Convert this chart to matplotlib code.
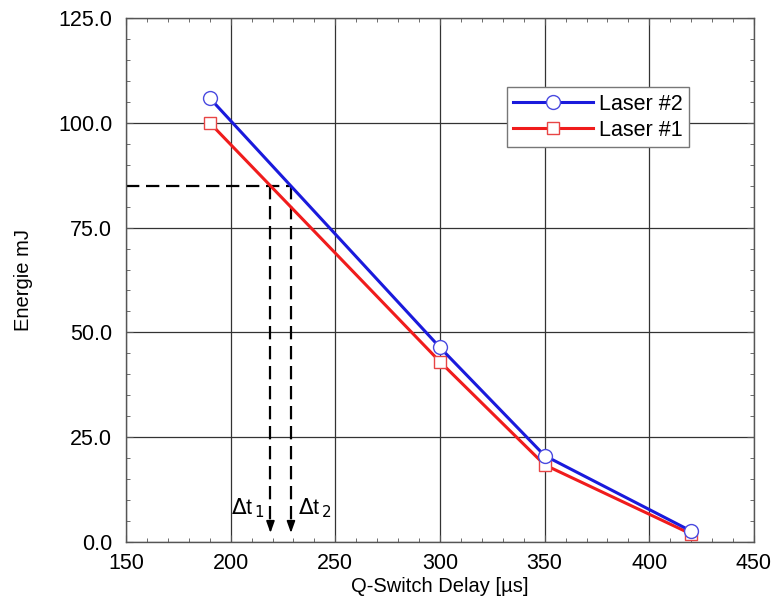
import matplotlib
matplotlib.use("Agg")
import matplotlib.pyplot as plt
from matplotlib.ticker import MultipleLocator, FormatStrFormatter

plt.rcParams["font.family"] = ["Liberation Sans", "DejaVu Sans"]

# data
delay_us = [190, 300, 350, 420]
laser2_mj = [105.9, 46.4, 20.6, 2.6]
laser1_mj = [100.0, 43.0, 18.4, 1.9]

target_mj = 85.0
dt1_us = 219.0
dt2_us = 228.8

fig = plt.figure(figsize=(7.76, 6.07), dpi=100)
ax = fig.add_axes([0.1624, 0.1071, 0.8092, 0.8632])

ax.set_xlim(150, 450)
ax.set_ylim(0, 125)
ax.xaxis.set_major_locator(MultipleLocator(50))
ax.xaxis.set_minor_locator(MultipleLocator(10))
ax.yaxis.set_major_locator(MultipleLocator(25))
ax.yaxis.set_minor_locator(MultipleLocator(5))
ax.yaxis.set_major_formatter(FormatStrFormatter("%.1f"))
ax.tick_params(which="both", direction="in", top=True, right=True,
               labelsize=15.5, color="#555555")
ax.tick_params(axis="x", pad=8)
ax.tick_params(axis="y", pad=10)
ax.tick_params(which="major", length=5)
ax.tick_params(which="minor", length=3)
ax.grid(True, which="major", color="#333333", linewidth=0.9)
ax.set_axisbelow(True)
for s in ax.spines.values():
    s.set_color("#555555")
    s.set_linewidth(1.0)

# guide lines for the 85 mJ target
dash = dict(color="black", linewidth=1.6, linestyle=(0, (6, 3)))
ax.plot([150, dt2_us], [target_mj, target_mj], **dash)
for x in (dt1_us, dt2_us):
    ax.plot([x, x], [target_mj, 4.5], **dash)
    ax.annotate("", xy=(x, 1.5), xytext=(x, 5),
                arrowprops=dict(arrowstyle="-|>,head_length=0.7,head_width=0.25",
                                color="black", lw=1.2))

ax.plot(delay_us, laser2_mj, color="#1a1adc", linewidth=2.2, marker="o",
        markersize=10, markerfacecolor="white", markeredgecolor="#4a4ae0",
        markeredgewidth=1.0, label="Laser #2", zorder=4)
ax.plot(delay_us, laser1_mj, color="#f01c1c", linewidth=2.2, marker="s",
        markersize=9, markerfacecolor="white", markeredgecolor="#e84545",
        markeredgewidth=1.0, label="Laser #1", zorder=3)

ax.text(208, 8, r"$\Delta$t$_{\,1}$", fontsize=15.5, ha="center", va="center")
ax.text(240, 8, r"$\Delta$t$_{\,2}$", fontsize=15.5, ha="center", va="center")

leg = ax.legend(loc="upper left", bbox_to_anchor=(0.606, 0.868), fontsize=15.5,
                frameon=True, fancybox=False, framealpha=1, edgecolor="#777777",
                handlelength=3.7, borderpad=0.3, labelspacing=0.25,
                handletextpad=0.3, borderaxespad=0)
leg.get_frame().set_linewidth(1.0)

ax.set_xlabel("Q-Switch Delay [µs]", fontsize=14.5, labelpad=2)
ax.set_ylabel("Energie mJ", fontsize=14.5, labelpad=18)

fig.savefig("out.png", dpi=100)
